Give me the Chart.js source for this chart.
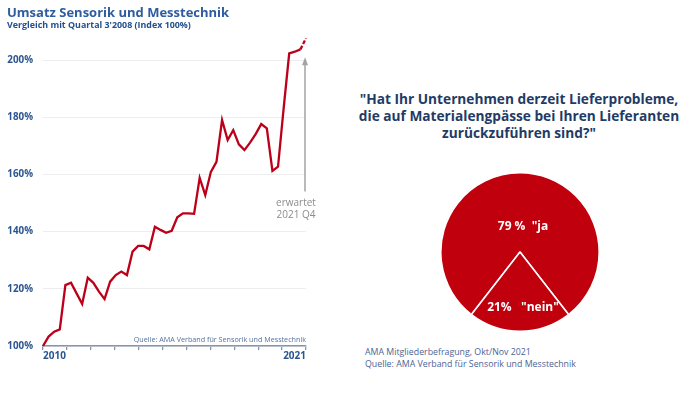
<!DOCTYPE html>
<html><head><meta charset="utf-8">
<script src="https://cdn.jsdelivr.net/npm/chart.js@4/dist/chart.umd.min.js"></script>
<style>
html,body{margin:0;padding:0;background:#fff;width:695px;height:395px;overflow:hidden;font-family:"Open Sans",sans-serif;}
.abs{position:absolute;white-space:nowrap;}
#t1{left:7px;top:3px;font-size:13px;line-height:18px;font-weight:700;color:#2e5c9e;}
#t2{left:7px;top:19px;font-size:8.9px;line-height:12px;font-weight:700;color:#23508f;}
#q{left:339px;width:360px;top:90px;font-size:13.7px;line-height:17px;font-weight:700;color:#1f3b66;text-align:center;}
#f{left:365px;top:347px;font-size:8.8px;line-height:11.5px;color:#4b6496;}
#c1{position:absolute;left:0;top:0;}
#c2{position:absolute;left:440px;top:172px;}
</style></head>
<body>
<canvas id="c1" width="320" height="375"></canvas>
<canvas id="c2" width="160" height="160"></canvas>
<div class="abs" id="t1"></div>
<div class="abs" id="t2"></div>
<div class="abs" id="q"></div>
<div class="abs" id="f"></div>
<script>
// ---- data ----
const lineTitle = 'Umsatz Sensorik und Messtechnik';
const lineSubtitle = "Vergleich mit Quartal 3'2008 (Index 100%)";
const lineSource = 'Quelle: AMA Verband für Sensorik und Messtechnik';
const firstYear = 2010, lastYear = 2021;
const quarters = [];
for (let yr = firstYear; yr <= lastYear; yr++) for (let q = 1; q <= 4; q++) quarters.push(yr + ' Q' + q);
const salesIndex = [
  100, 103.3, 105, 105.8, 121.3, 122.1, 118.4, 114.7,
  123.9, 122.1, 119, 116.4, 122.5, 124.8, 126, 124.8,
  133, 135, 135, 133.8, 141.7, 140.6, 139.6, 140.3,
  145, 146.4, 146.4, 146.2, 158.8, 152.8, 160.9, 164.4,
  179, 172, 175.5, 170.5, 168.5, 171.1, 174.1, 177.6,
  176.1, 161.2, 162.7, 183, 202.3, 202.9, 203.7, 207.6
];
const yTicksMin = 100, yTicksMax = 200, yTickStep = 20;
const xLabelYears = [2010, 2021];
const expectedLabel = ['erwartet', '2021 Q4'];
const arrowFrom = 154, arrowTo = 201;

const pieQuestion = ['"Hat Ihr Unternehmen derzeit Lieferprobleme,', 'die auf Materialengpässe bei Ihren Lieferanten', 'zurückzuführen sind?"'];
const pieCategories = ['ja', 'nein'];
const pieValues = [79, 21];
const pieLabels = ['79 %  "ja', '21%   "nein"'];
const pieFooter = ['AMA Mitgliederbefragung, Okt/Nov 2021', 'Quelle: AMA Verband für Sensorik und Messtechnik'];

// ---- texts ----
document.getElementById('t1').textContent = lineTitle;
document.getElementById('t2').textContent = lineSubtitle;
document.getElementById('q').innerHTML = pieQuestion.map(s => s.replace(/&/g,'&amp;').replace(/</g,'&lt;')).join('<br>');
document.getElementById('f').innerHTML = pieFooter.join('<br>');

// ---- line chart ----
const span = lastYear - firstYear;
const points = salesIndex.map((v, i) => ({x: firstYear + i * span / (salesIndex.length - 1), y: v}));
const FONT = '"Open Sans", sans-serif';

const annot = {
  id: 'annot',
  beforeDatasetsDraw(chart) {
    const {ctx, scales: {x, y}, chartArea} = chart;
    const ax = x.getPixelForValue(points[points.length - 1].x) - 1;
    const yTop = y.getPixelForValue(arrowTo), yBot = y.getPixelForValue(arrowFrom);
    ctx.save();
    ctx.strokeStyle = '#a3a3a3'; ctx.fillStyle = '#a3a3a3'; ctx.lineWidth = 1.5;
    ctx.beginPath(); ctx.moveTo(ax, yBot); ctx.lineTo(ax, yTop + 6); ctx.stroke();
    ctx.beginPath(); ctx.moveTo(ax, yTop); ctx.lineTo(ax - 3, yTop + 8); ctx.lineTo(ax + 3, yTop + 8); ctx.closePath(); ctx.fill();
    ctx.font = '10px ' + FONT; ctx.fillStyle = '#8c8c8c'; ctx.textAlign = 'center'; ctx.textBaseline = 'middle';
    ctx.fillText(expectedLabel[0], ax - 9, yBot + 12);
    ctx.fillText(expectedLabel[1], ax - 9, yBot + 24);
    ctx.font = '7.2px ' + FONT; ctx.fillStyle = '#5571a0'; ctx.textAlign = 'right';
    ctx.fillText(lineSource, chartArea.right, chartArea.bottom - 6);
    ctx.restore();
  }
};

new Chart(document.getElementById('c1'), {
  type: 'line',
  data: {
    datasets: [{
      label: lineTitle,
      data: points,
      borderColor: '#bd0019',
      borderWidth: 2.3,
      pointRadius: 0,
      tension: 0,
      fill: false,
      clip: false,
      segment: { borderDash: c => c.p1DataIndex === salesIndex.length - 1 ? [4, 2] : undefined }
    }]
  },
  options: {
    responsive: false, animation: false, events: [],
    layout: { padding: { top: 60, left: 0, right: 14, bottom: 0 } },
    plugins: { legend: { display: false }, tooltip: { enabled: false } },
    scales: {
      x: {
        type: 'linear', min: firstYear, max: lastYear,
        afterFit: s => { s.height = 29; },
        grid: { drawOnChartArea: false, drawTicks: true, tickLength: 4, tickColor: '#8595b0', lineWidth: 1.3 },
        border: { display: true, color: '#8595b0', width: 1.5 },
        ticks: {
          stepSize: 1, autoSkip: false, maxRotation: 0, align: 'inner', padding: 0,
          color: '#2b558f', font: { family: FONT, size: 10, weight: 'bold' },
          callback: v => xLabelYears.includes(v) ? String(v) : ''
        }
      },
      y: {
        min: yTicksMin, max: yTicksMax,
        afterFit: s => { s.width = 43; },
        grid: { color: '#ededed', lineWidth: 1, drawTicks: false },
        border: { display: false },
        ticks: {
          stepSize: yTickStep, padding: 10,
          color: '#2b558f', font: { family: FONT, size: 9.8, weight: 'bold' },
          callback: v => v + '%'
        }
      }
    }
  },
  plugins: [annot]
});

// ---- pie chart ----
const labelRadius = [0.32, 0.7];
const pieText = {
  id: 'pieText',
  afterDatasetsDraw(chart) {
    const {ctx} = chart;
    const arcs = chart.getDatasetMeta(0).data;
    ctx.save();
    ctx.font = 'bold 12px ' + FONT; ctx.fillStyle = '#ffffff';
    ctx.textAlign = 'center'; ctx.textBaseline = 'middle';
    arcs.forEach((a, i) => {
      const p = a.getProps(['x', 'y', 'startAngle', 'endAngle', 'outerRadius'], true);
      const mid = (p.startAngle + p.endAngle) / 2;
      const r = p.outerRadius * labelRadius[i];
      ctx.fillText(pieLabels[i], p.x + Math.cos(mid) * r + 3, p.y + Math.sin(mid) * r);
    });
    ctx.restore();
  }
};

new Chart(document.getElementById('c2'), {
  type: 'pie',
  data: {
    labels: pieCategories,
    datasets: [{ data: pieValues, backgroundColor: ['#c0000c', '#c0000c'], borderColor: '#ffffff', borderWidth: 1.6 }]
  },
  options: {
    responsive: false, animation: false, events: [],
    rotation: 217.8,
    layout: { padding: 0 },
    plugins: { legend: { display: false }, tooltip: { enabled: false } }
  },
  plugins: [pieText]
});
</script>
</body></html>
